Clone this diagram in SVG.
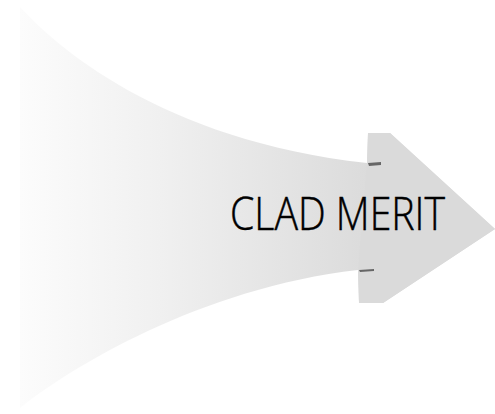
<svg xmlns="http://www.w3.org/2000/svg" width="495" height="414" viewBox="0 0 495 414">
<defs>
<linearGradient id="g" x1="20" y1="0" x2="370" y2="0" gradientUnits="userSpaceOnUse">
<stop offset="0" stop-color="#fcfcfc"/>
<stop offset="0.4" stop-color="#f0f0f0"/>
<stop offset="1" stop-color="#dbdbdb"/>
</linearGradient>
<filter id="b" x="-50%" y="-200%" width="200%" height="500%"><feGaussianBlur stdDeviation="0.7"/></filter>
<style>.lbl{font-family:"Open Sans","Liberation Sans",sans-serif;font-weight:300;font-size:46px;fill:#000;stroke:#000;stroke-width:0.5}.smudge{fill:#666;filter:url(#b)}</style>
</defs>
<rect width="495" height="414" fill="#fff"/>
<g id="arrow">
<path d="M20,7 C55,45 160,140 367,163 L368,133 L390,133 L495,229 L383,303 L359,303 L358,270 C200,288 70,368 20,408 Z" fill="url(#g)"/>
<path d="M367,163 L368,133 L390,133 L495,229 L383,303 L359,303 L358,270 Z" fill="#dadada"/>
<path class="smudge" d="M368,163 L381,162 L381,165 L369,166 Z"/>
<path class="smudge" d="M359,270 L374,269 L374,271 L360,272 Z"/>
</g>
<g id="label">
<text class="lbl" x="230" y="230" textLength="215" lengthAdjust="spacingAndGlyphs">CLAD MERIT</text>
</g>
</svg>
